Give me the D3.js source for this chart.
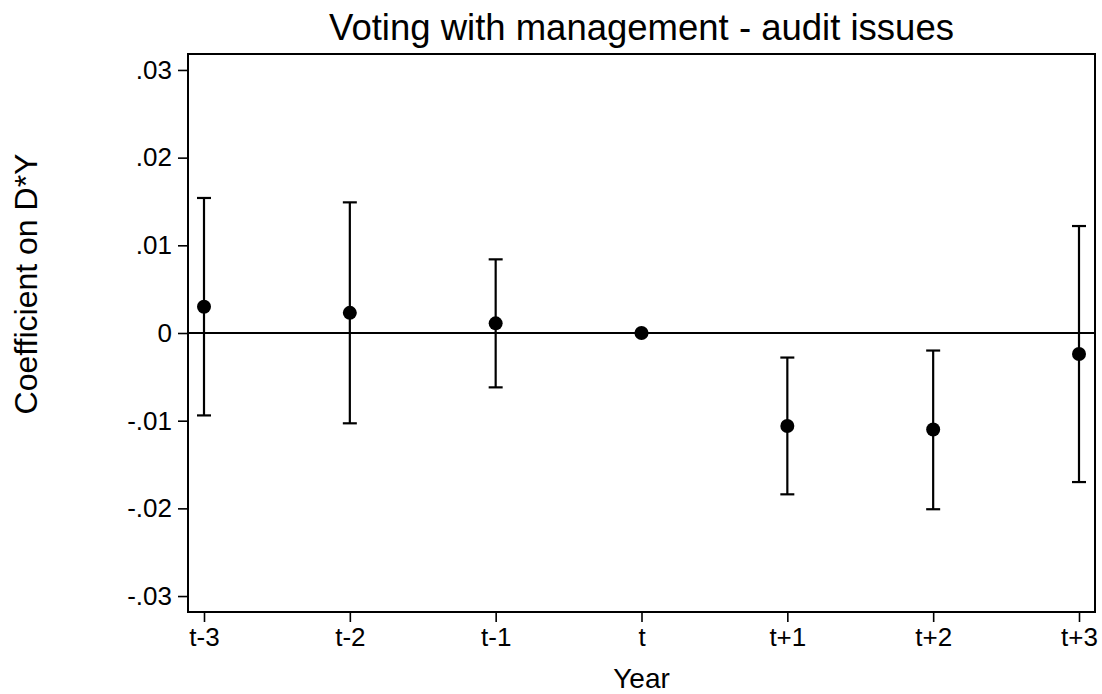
<!DOCTYPE html>
<html>
<head>
<meta charset="utf-8">
<script src="https://cdn.jsdelivr.net/npm/d3@7"></script>
<style>
  body { margin: 0; background: #fff; }
  svg { display: block; font-family: "Liberation Sans", Arial, sans-serif; }
</style>
</head>
<body>
<svg id="chart" width="1102" height="694"></svg>
<script>
const categories = ["t-3", "t-2", "t-1", "t", "t+1", "t+2", "t+3"];
const coef  = [0.0030, 0.0023, 0.0011, 0.0000, -0.0106, -0.0110, -0.0024];
const upper = [0.0154, 0.0149, 0.0084, 0.0000, -0.0028, -0.0020, 0.0122];
const lower = [-0.0094, -0.0103, -0.0062, 0.0000, -0.0184, -0.0201, -0.0170];
const yTicks = [0.03, 0.02, 0.01, 0, -0.01, -0.02, -0.03];
const yTickLabels = [".03", ".02", ".01", "0", "-.01", "-.02", "-.03"];

(function () {
const svg = d3.select("#chart");
const pL = 188, pR = 1095, pT = 54, pB = 612;

const x = d3.scaleLinear().domain([0, categories.length - 1]).range([204, 1079]);
const y = d3.scaleLinear().domain([-0.03182, 0.03182]).range([pB, pT]);

// Title
svg.append("text")
  .attr("x", (pL + pR) / 2).attr("y", 40)
  .attr("text-anchor", "middle")
  .attr("font-size", 36.5)
  .attr("fill", "#000")
  .text("Voting with management - audit issues");

// Y axis
const yAxis = d3.axisLeft(y)
  .tickValues(yTicks)
  .tickFormat((d, i) => yTickLabels[i])
  .tickSize(10).tickPadding(6);
const gy = svg.append("g").attr("transform", `translate(${pL},0)`).call(yAxis);
gy.select(".domain").remove();
gy.selectAll("line").attr("stroke", "#000").attr("stroke-width", 1.6);
gy.selectAll("text").attr("font-size", 26).attr("fill", "#000");

// X axis
const xAxis = d3.axisBottom(x)
  .tickValues(d3.range(categories.length))
  .tickFormat(i => categories[i])
  .tickSize(10).tickPadding(6);
const gx = svg.append("g").attr("transform", `translate(0,${pB})`).call(xAxis);
gx.select(".domain").remove();
gx.selectAll("line").attr("stroke", "#000").attr("stroke-width", 1.6);
gx.selectAll("text").attr("font-size", 26).attr("fill", "#000");

// Zero line
svg.append("line")
  .attr("x1", pL).attr("x2", pR)
  .attr("y1", y(0)).attr("y2", y(0))
  .attr("stroke", "#000").attr("stroke-width", 2);

// Frame
svg.append("rect")
  .attr("x", pL).attr("y", pT)
  .attr("width", pR - pL).attr("height", pB - pT)
  .attr("fill", "none").attr("stroke", "#000").attr("stroke-width", 2);

// Error bars
const idx = d3.range(categories.length);
const eb = svg.append("g");
eb.selectAll("line.v").data(idx).join("line").attr("class", "v")
  .attr("x1", i => x(i)).attr("x2", i => x(i))
  .attr("y1", i => y(upper[i])).attr("y2", i => y(lower[i]))
  .attr("stroke", "#000").attr("stroke-width", 2.2);
eb.selectAll("line.cu").data(idx).join("line").attr("class", "cu")
  .attr("x1", i => x(i) - 7).attr("x2", i => x(i) + 7)
  .attr("y1", i => y(upper[i])).attr("y2", i => y(upper[i]))
  .attr("stroke", "#000").attr("stroke-width", 2.2);
eb.selectAll("line.cl").data(idx).join("line").attr("class", "cl")
  .attr("x1", i => x(i) - 7).attr("x2", i => x(i) + 7)
  .attr("y1", i => y(lower[i])).attr("y2", i => y(lower[i]))
  .attr("stroke", "#000").attr("stroke-width", 2.2);

// Points
svg.append("g").selectAll("circle").data(idx).join("circle")
  .attr("cx", i => x(i)).attr("cy", i => y(coef[i]))
  .attr("r", 7).attr("fill", "#000");

// Axis titles
svg.append("text")
  .attr("x", (pL + pR) / 2).attr("y", 688)
  .attr("text-anchor", "middle").attr("font-size", 28).attr("fill", "#000")
  .text("Year");
svg.append("text")
  .attr("transform", `translate(37,284) rotate(-90)`)
  .attr("text-anchor", "middle").attr("font-size", 32).attr("fill", "#000")
  .text("Coefficient on D*Y");
})();
</script>
</body>
</html>
